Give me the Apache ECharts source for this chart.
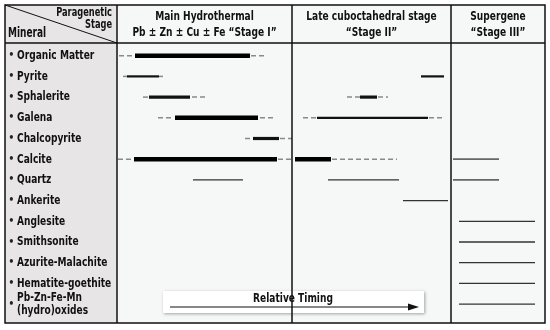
<!DOCTYPE html>
<html>
<head>
<meta charset="utf-8">
<script src="https://cdn.jsdelivr.net/npm/echarts@6/dist/echarts.min.js"></script>
<style>html,body{margin:0;padding:0;background:#fff}#c{width:550px;height:330px}</style>
</head>
<body>
<div id="c"></div>
<script>
// ---- data ----
const minerals = ['Organic Matter','Pyrite','Sphalerite','Galena','Chalcopyrite','Calcite','Quartz',
  'Ankerite','Anglesite','Smithsonite','Azurite-Malachite','Hematite-goethite','Pb-Zn-Fe-Mn\n(hydro)oxides'];
const stageTitles = ['Main Hydrothermal', 'Late cuboctahedral stage', 'Supergene'];
const stageSubtitles = ['Pb \u00b1 Zn \u00b1 Cu \u00b1 Fe \u201cStage I\u201d', '\u201cStage II\u201d', '\u201cStage III\u201d'];
const stageBounds = [0, 175, 334, 428];   // relative timing units
// segments: [start, end, mineral]
const major = [
  [18,133,'Organic Matter'],[58,141,'Galena'],[17,160,'Calcite'],[178,214,'Calcite']
];
const moderate = [
  [32,73,'Sphalerite'],[243,260,'Sphalerite'],[136,162,'Chalcopyrite']
];
const minor = [
  [10,42,'Pyrite'],[304,327,'Pyrite'],[200,311,'Galena']
];
const trace = [
  [76,126,'Quartz'],[211,282,'Quartz'],[286,331,'Ankerite'],
  [342,418,'Anglesite'],[342,418,'Smithsonite'],[342,418,'Azurite-Malachite'],
  [342,418,'Hematite-goethite'],[342,418,'Pb-Zn-Fe-Mn\n(hydro)oxides']
];
const traceLate = [
  [336,382,'Calcite'],[336,382,'Quartz']
];
const possible = [
  [2,16,'Organic Matter'],[134,150,'Organic Matter'],
  [6,10,'Pyrite'],[42,46,'Pyrite'],
  [26,31,'Sphalerite'],[75,91,'Sphalerite'],[230,243,'Sphalerite'],[261,271,'Sphalerite'],
  [41,56,'Galena'],[143,158,'Galena'],[186,200,'Galena'],[312,325,'Galena'],
  [128,135,'Chalcopyrite'],[163,175,'Chalcopyrite'],
  [1,16,'Calcite'],[161,176,'Calcite'],[215,280,'Calcite']
];

const FONT = "'DejaVu Sans Condensed','DejaVu Sans',sans-serif";
const SX = 0.84, SY = 1.08;
const chart = echarts.init(document.getElementById('c'), null, {renderer:'canvas'});

function segSeries(name, data, stroke, width, dash, z) {
  return {
    type: 'custom', name, data, z,
    encode: {x: [0, 1], y: 2},
    renderItem: function (params, api) {
      const y = api.value(2);
      const p1 = api.coord([api.value(0), y]);
      const p2 = api.coord([api.value(1), y]);
      return {type: 'line', shape: {x1: p1[0], y1: p1[1], x2: p2[0], y2: p2[1]},
        style: {stroke: stroke, lineWidth: width, lineDash: dash || null, lineCap: 'butt'}};
    }
  };
}

const L = 5, R = 545, T = 5, B = 323, MC = 117, HB = 43;

const option = {
  backgroundColor: '#ffffff',
  animation: false,
  grid: {left: MC, right: 550 - R, top: 45.35, bottom: 330 - 314.45},
  xAxis: {type: 'value', min: stageBounds[0], max: stageBounds[3], show: false},
  yAxis: {
    type: 'category', data: minerals, inverse: true,
    axisLine: {show: false}, axisTick: {show: false}, splitLine: {show: false},
    axisLabel: {show: false}
  },
  series: [
    segSeries('possible', possible, '#8a8a8a', 1.5, [5, 3], 2),
    segSeries('trace', trace, '#333333', 1.3, null, 3),
    segSeries('traceLate', traceLate, '#666666', 1.8, null, 3),
    segSeries('minor', minor, '#111111', 2.2, null, 4),
    segSeries('moderate', moderate, '#111111', 3.2, null, 5),
    segSeries('major', major, '#000000', 4.5, null, 6)
  ],
  graphic: []
};
chart.setOption(option);

// frame & header, using axis scale for stage dividers
const sx = stageBounds.map(v => chart.convertToPixel({gridIndex: 0}, [v, 0])[0]);
const g = [];
g.push({type: 'rect', z: -20, shape: {x: L, y: T, width: R - L, height: B - T}, style: {fill: '#f6f7f7'}});
g.push({type: 'rect', z: -19, shape: {x: L, y: T, width: MC - L, height: B - T}, style: {fill: '#e7e5e5'}});
const lineStyle = {stroke: '#111', lineWidth: 1.5};
g.push({type: 'rect', z: 50, shape: {x: L, y: T, width: R - L, height: B - T}, style: {fill: null, stroke: '#111', lineWidth: 1.5}});
g.push({type: 'line', z: 50, shape: {x1: L, y1: HB, x2: R, y2: HB}, style: lineStyle});
g.push({type: 'line', z: 50, shape: {x1: L, y1: T, x2: MC, y2: HB}, style: {stroke: '#111', lineWidth: 1}});
[MC, sx[1], sx[2]].forEach(x => g.push({type: 'line', z: 50, shape: {x1: x, y1: T, x2: x, y2: B}, style: lineStyle}));
const hf = {fontFamily: FONT, fontWeight: 'bold', fontSize: 12, fill: '#111', align: 'center', verticalAlign: 'middle'};
for (let i = 0; i < 3; i++) {
  const cx = (sx[i] + sx[i + 1]) / 2;
  g.push({type: 'text', z: 60, x: cx, y: 17, scaleX: SX, scaleY: SY, style: Object.assign({text: stageTitles[i]}, hf)});
  g.push({type: 'text', z: 60, x: cx, y: 33, scaleX: SX, scaleY: SY, style: Object.assign({text: stageSubtitles[i]}, hf)});
}
const sf = {fontFamily: FONT, fontWeight: 'bold', fontSize: 12, fill: '#111', verticalAlign: 'middle'};
g.push({type: 'text', z: 60, x: 112, y: 13, scaleX: 0.8, scaleY: SY, style: Object.assign({text: 'Paragenetic', align: 'right'}, sf, {fontSize: 11.5})});
g.push({type: 'text', z: 60, x: 112, y: 25, scaleX: 0.8, scaleY: SY, style: Object.assign({text: 'Stage', align: 'right'}, sf, {fontSize: 11.5})});
g.push({type: 'text', z: 60, x: 8, y: 33, scaleX: 0.8, scaleY: SY, style: Object.assign({text: 'Mineral', align: 'left'}, sf, {fontSize: 12.5})});
// mineral labels positioned by the category axis
minerals.forEach(function (m) {
  const y = chart.convertToPixel({yAxisIndex: 0}, m);
  g.push({type: 'text', z: 60, x: 8.5, y: y, style: {text: '\u2022', fontFamily: FONT, fontWeight: 'bold', fontSize: 10, fill: '#222', align: 'left', verticalAlign: 'middle'}});
  g.push({type: 'text', z: 60, x: 17, y: y, scaleX: SX, scaleY: SY,
    style: {text: m, fontFamily: FONT, fontWeight: 'bold', fontSize: 12, lineHeight: 12.5, fill: '#111', align: 'left', verticalAlign: 'middle'}});
});
// relative timing box
g.push({type: 'rect', z: 40, shape: {x: 163, y: 291, width: 261, height: 22},
  style: {fill: '#ffffff', shadowBlur: 3, shadowColor: 'rgba(0,0,0,0.35)', shadowOffsetX: 1, shadowOffsetY: 1}});
g.push({type: 'text', z: 41, x: 293, y: 298.5, scaleX: SX, scaleY: SY, style: Object.assign({text: 'Relative Timing', align: 'center'}, sf, {fontSize: 12})});
g.push({type: 'line', z: 41, shape: {x1: 170, y1: 307, x2: 410, y2: 307}, style: {stroke: '#111', lineWidth: 1.2}});
g.push({type: 'polygon', z: 41, shape: {points: [[408, 303.5], [419, 307], [408, 310.5]]}, style: {fill: '#111'}});
chart.setOption({graphic: g});
</script>
</body>
</html>
